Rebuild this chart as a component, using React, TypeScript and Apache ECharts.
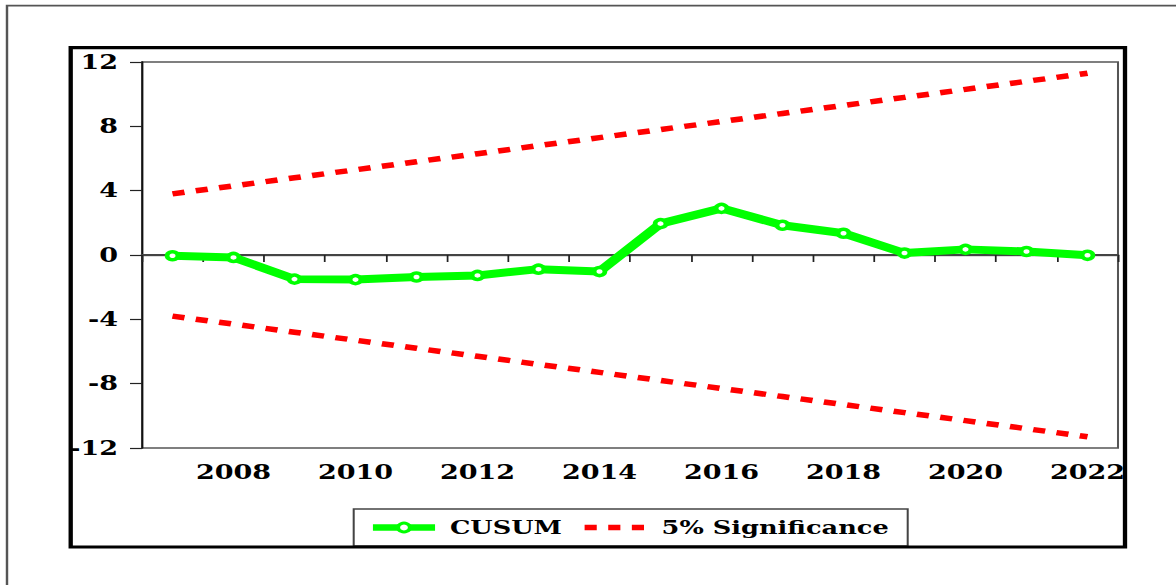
import React, { useEffect, useRef } from "react";
import * as echarts from "echarts";

const years = ["2007", "2008", "2009", "2010", "2011", "2012", "2013", "2014", "2015", "2016", "2017", "2018", "2019", "2020", "2021", "2022"];
const cusum = [-0.05, -0.15, -1.5, -1.53, -1.37, -1.27, -0.88, -1.03, 1.95, 2.9, 1.85, 1.35, 0.12, 0.35, 0.22, -0.02];
const upper = [3.8, 4.3, 4.8, 5.3, 5.8, 6.3, 6.8, 7.3, 7.8, 8.3, 8.8, 9.3, 9.8, 10.3, 10.8, 11.3];
const lower = [-3.8, -4.3, -4.8, -5.3, -5.8, -6.3, -6.8, -7.3, -7.8, -8.3, -8.8, -9.3, -9.8, -10.3, -10.8, -11.3];
const yMin = -12;
const yMax = 12;
const yStep = 4;

const W = 871;
const H = 585;
const S = 1176 / W;
const FONT = "DejaVu Serif";
const DASH = [9, 8.5];

export default function App() {
  const ref = useRef<HTMLDivElement>(null);
  useEffect(() => {
    document.body.style.overflow = "hidden";
    const chart = echarts.init(ref.current!, null, { renderer: "svg" });
    const tr = "rgba(0,0,0,0)";
    chart.setOption({
      animation: false,
      backgroundColor: "#ffffff",
      graphic: [
        {
          type: "rect",
          shape: { x: 7 / S, y: 5.7, width: 3000, height: 3000 },
          style: { fill: "none", stroke: "#555", lineWidth: 1.8 },
          z: 0,
        },
        {
          type: "rect",
          shape: { x: 70.7 / S, y: 47.7, width: (1125 - 70.7) / S, height: 547 - 47.7 },
          style: { fill: "none", stroke: "#000", lineWidth: 3.2 },
          z: 10,
        },
      ],
      grid: {
        left: 142 / S,
        right: W - 1118 / S,
        top: 62,
        bottom: H - 448,
        show: true,
        borderColor: "#555",
        borderWidth: 1.5,
        containLabel: false,
      },
      xAxis: {
        type: "category",
        data: years,
        boundaryGap: true,
        axisLine: { show: true, lineStyle: { color: "#444", width: 2 } },
        axisTick: { show: true, interval: 0, length: 7, lineStyle: { color: "#222", width: 1.3 } },
        axisLabel: {
          interval: (i: number) => i % 2 === 1,
          margin: 14,
          color: "#000",
          fontFamily: FONT,
          fontWeight: "bold",
          fontSize: 20,
        },
        splitLine: { show: false },
      },
      yAxis: {
        type: "value",
        min: yMin,
        max: yMax,
        interval: yStep,
        axisLine: { show: true, lineStyle: { color: "#111", width: 1.4 } },
        axisTick: { show: true, length: 12 / S, lineStyle: { color: "#222", width: 1.2 } },
        axisLabel: {
          margin: (142 - 118) / S,
          color: "#000",
          fontFamily: FONT,
          fontWeight: "bold",
          fontSize: 20,
        },
        splitLine: {
          show: true,
          lineStyle: { color: [tr, tr, tr, "#777", tr, tr, tr], width: 1.3, type: "solid" },
        },
      },
      legend: {
        left: 353.7 / S,
        top: 509,
        orient: "horizontal",
        data: [
          {
            name: "CUSUM",
            lineStyle: { width: 6.5, color: "#00ff00" },
            itemStyle: { color: "#ffffff", borderColor: "#00ff00", borderWidth: 3 },
          },
          {
            name: "5% Significance",
            lineStyle: { width: 5.5, color: "#ff0000", type: DASH, cap: "butt" },
            itemStyle: { opacity: 0 },
          },
        ],
        borderColor: "#444",
        borderWidth: 1.5,
        backgroundColor: "#fff",
        padding: [8, 14, 8, 11],
        itemGap: 14,
        itemWidth: 46,
        itemHeight: 11,
        textStyle: {
          color: "#000",
          fontFamily: FONT,
          fontWeight: "bold",
          fontSize: 19,
          lineHeight: 21,
          padding: [0, 0, 0, 6],
        },
        selectedMode: false,
      },
      series: [
        {
          name: "5% Significance",
          type: "line",
          data: upper,
          symbol: "none",
          lineStyle: { color: "#ff0000", width: 5.5, type: DASH, cap: "butt" },
          itemStyle: { color: "#ff0000" },
          z: 3,
        },
        {
          name: "5% Significance",
          type: "line",
          data: lower,
          symbol: "none",
          lineStyle: { color: "#ff0000", width: 5.5, type: DASH, cap: "butt" },
          itemStyle: { color: "#ff0000" },
          z: 3,
        },
        {
          name: "CUSUM",
          type: "line",
          data: cusum,
          symbol: "circle",
          symbolSize: 8,
          showSymbol: true,
          lineStyle: { color: "#00ff00", width: 8 },
          itemStyle: { color: "#ffffff", borderColor: "#00ff00", borderWidth: 3.5 },
          z: 4,
        },
      ],
    });
    return () => chart.dispose();
  }, []);
  return (
    <div
      ref={ref}
      style={{
        position: "absolute",
        left: 0,
        top: 0,
        width: W,
        height: H,
        transform: `scaleX(${S})`,
        transformOrigin: "0 0",
      }}
    />
  );
}
